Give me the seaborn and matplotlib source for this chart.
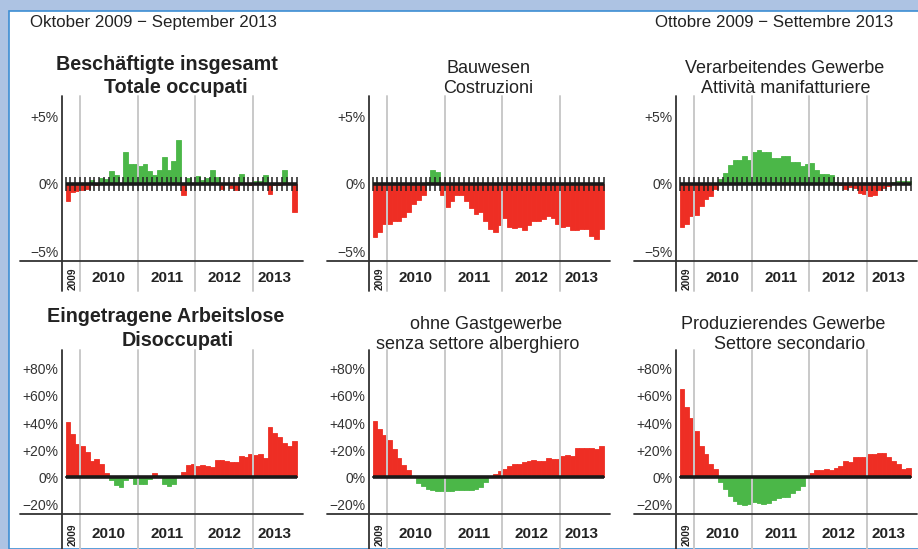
import matplotlib
matplotlib.use('Agg')
import matplotlib.pyplot as plt
from matplotlib.patches import Rectangle
import seaborn as sns
import numpy as np
import pandas as pd

# monthly change vs. same month of previous year, Oct 2009 - Sep 2013
employed_total = [-1.23, -0.57, -0.5, -0.45, -0.4, 0.3, -0.1, 0.45, 0.4, 0.95, 0.7, 0.05,
                  2.4, 1.45, 1.5, 1.3, 1.45, 0.95, 0.7, 1.05, 2.0, 1.05, 1.7, 3.3,
                  -0.8, 0.45, 0.1, 0.6, 0.3, 0.45, 1.05, 0.55, -0.35, 0.1, -0.3, -0.45,
                  0.75, 0.1, -0.05, 0.2, 0.2, 0.7, -0.75, -0.05, -0.05, 1.05, 0.1, -2.1]
construction = [-3.95, -3.55, -2.95, -3.0, -2.75, -2.75, -2.45, -2.1, -1.5, -1.2, -0.8, 0.15,
                1.05, 0.9, -0.8, -1.7, -1.3, -0.8, -0.8, -1.25, -1.8, -2.25, -2.1, -2.75,
                -3.35, -3.55, -3.05, -2.5, -3.2, -3.3, -3.2, -3.4, -3.05, -2.75, -2.75, -2.6,
                -2.4, -2.55, -3.0, -3.2, -3.1, -3.4, -3.4, -3.35, -3.35, -3.9, -4.05, -3.35]
manufacturing = [-3.2, -2.95, -2.4, -2.3, -1.6, -1.15, -0.9, -0.35, 0.35, 0.85, 1.4, 1.75,
                 1.75, 2.1, 1.8, 2.4, 2.5, 2.35, 2.35, 1.95, 1.95, 2.1, 2.1, 1.65,
                 1.6, 1.35, 1.5, 1.55, 1.0, 0.75, 0.75, 0.7, 0.15, -0.05, -0.4, -0.25,
                 -0.3, -0.65, -0.75, -0.9, -0.85, -0.45, -0.3, -0.15, 0.15, 0.25, 0.2, 0.25]
unemployed_total = [41.1, 32.0, 24.6, 23.2, 18.7, 12.1, 13.5, 9.9, 3.2, -2.5, -5.7, -7.0,
                    -2.5, -0.5, -4.9, -5.0, -5.0, -1.5, 3.2, 0.8, -5.0, -6.5, -5.0, 0.2,
                    4.0, 9.0, 9.9, 8.5, 9.2, 8.3, 7.6, 12.3, 13.0, 12.0, 11.5, 11.5,
                    15.7, 15.0, 17.0, 16.5, 17.0, 14.3, 37.2, 32.5, 30.0, 25.0, 23.0, 27.0]
unemployed_no_hotel = [41.6, 35.7, 31.3, 27.6, 20.9, 14.3, 9.1, 5.4, -0.3, -4.4, -6.9, -8.6,
                       -9.6, -10.6, -10.6, -10.6, -10.5, -9.9, -9.9, -9.4, -9.9, -8.6, -7.1, -3.9,
                       0.3, 2.5, 4.7, 6.2, 8.4, 9.9, 9.9, 10.8, 12.1, 12.8, 12.1, 12.1,
                       14.3, 13.1, 13.5, 15.8, 16.5, 15.8, 21.7, 21.7, 21.2, 21.7, 20.9, 23.2]
unemployed_industry = [65.3, 52.0, 43.8, 34.2, 23.2, 17.0, 9.9, 6.2, -3.9, -9.1, -14.3, -17.5,
                       -19.7, -20.9, -19.7, -18.2, -19.0, -20.2, -19.0, -17.0, -15.8, -15.0, -14.5, -11.6,
                       -9.4, -6.9, -0.3, 3.2, 5.4, 5.4, 6.2, 5.4, 6.9, 8.4, 12.1, 11.3,
                       15.0, 15.0, 15.0, 17.2, 17.2, 18.0, 18.0, 15.0, 12.1, 9.9, 6.2, 6.9]

years = ['2010', '2011', '2012', '2013']
year_centers = [8.5, 20.5, 32.5, 43.0]
year_bounds = [2.5, 14.5, 26.5, 38.5]

RED = '#ee2e24'
GREEN = '#4bb748'
BLUE_BG = '#adc3e3'
TXT = '#222222'

W, H = 918, 549
fig = plt.figure(figsize=(W / 100, H / 100), dpi=100)
fig.patch.set_facecolor(BLUE_BG)
fig.add_artist(Rectangle((9 / W, 0), 1, 1 - 11 / H, transform=fig.transFigure,
                         facecolor='white', edgecolor='#3d8ed3', linewidth=1.2, zorder=-10))

sns.set_style('white')
plt.rcParams['font.family'] = ['Liberation Sans', 'DejaVu Sans']


def fy(y):
    return 1 - y / H


def draw_panel(left, top, bottom, values, ylim, yticks, ylabels, tail, up_good):
    width = 241
    ax = fig.add_axes([left / W, fy(bottom), width / W, (bottom - top) / H])
    ax.set_facecolor('none')
    df = pd.DataFrame({'month': np.arange(48), 'value': values})
    df['sign'] = np.where(df['value'] >= 0, 'pos', 'neg')
    pal = {'pos': GREEN, 'neg': RED} if up_good else {'pos': RED, 'neg': GREEN}
    sns.barplot(data=df, x='month', y='value', hue='sign', hue_order=['pos', 'neg'],
                palette=pal, dodge=False, width=1,
                saturation=1, legend=False, ax=ax, zorder=2)
    for p in ax.patches:
        p.set_edgecolor(p.get_facecolor())
        p.set_linewidth(0.6)
    ax.set_xlim(-1.25, 48.85)
    ax.set_ylim(*ylim)
    ax.set_xticks([])
    ax.set_xlabel('')
    ax.set_ylabel('')
    ax.set_yticks(yticks)
    ax.set_yticklabels(ylabels, fontsize=10, color='#333333')
    ax.tick_params(axis='y', length=0, pad=2.6)
    for s in ax.spines.values():
        s.set_visible(False)
    ext = tail / (bottom - top)
    for b in year_bounds:
        ax.axvline(b, ymin=-ext, ymax=1, color='#c9c9c9', lw=1.4, clip_on=False, zorder=3)
    ax.axvline(-1.25, ymin=-ext, ymax=1, color='#333333', lw=1.3, clip_on=False, zorder=5)
    ax.axhline(ylim[0], xmin=-42 / width, xmax=1, color='#333333', lw=1.3,
               clip_on=False, zorder=5)
    ax.vlines(np.arange(-0.5, 48), -0.5, 0.5, color='#222222', lw=1.1, zorder=4)
    ax.plot([-0.5, 47.5], [0, 0], color='#1a1a1a', lw=2.6, zorder=4,
            solid_capstyle='butt')
    trans = ax.get_xaxis_transform()
    ycen = -(tail * 0.5 + 2.5) / (bottom - top)
    for yr, xc in zip(years, year_centers):
        ax.text(xc, ycen, yr, transform=trans, ha='center', va='center',
                fontsize=11, fontweight='bold', color=TXT)
    ax.text(1.0, ycen, '2009', transform=trans, ha='center', va='center', rotation=90,
            fontsize=7.3, fontweight='bold', color=TXT)
    return ax


top_ylim = (-5.72, 6.53)
bot_ylim = (-27.3, 94.0)
top_ticks = [-5, 0, 5]
top_labels = ['\u22125%', '0%', '+5%']
bot_ticks = [-20, 0, 20, 40, 60, 80]
bot_labels = ['\u221220%', '0%', '+20%', '+40%', '+60%', '+80%']

lefts = [62, 369, 676]
top_series = [employed_total, construction, manufacturing]
bot_series = [unemployed_total, unemployed_no_hotel, unemployed_industry]
for lx, vals in zip(lefts, top_series):
    draw_panel(lx, 96, 261, vals, top_ylim, top_ticks, top_labels, 30, True)
for lx, vals in zip(lefts, bot_series):
    draw_panel(lx, 350, 514, vals, bot_ylim, bot_ticks, bot_labels, 36, False)


def title(x, y, s, bold=False):
    fig.text(x / W, fy(y), s, ha='center', va='baseline', color=TXT,
             fontsize=14.2 if bold else 13.0, fontweight='bold' if bold else 'normal')


title(167, 70, 'Beschäftigte insgesamt', True)
title(176, 92.7, 'Totale occupati', True)
title(488, 73.3, 'Bauwesen')
title(488, 93.3, 'Costruzioni')
title(785, 73.3, 'Verarbeitendes Gewerbe')
title(786, 93.3, 'Attività manifatturiere')
title(166, 321.7, 'Eingetragene Arbeitslose', True)
title(178, 345.7, 'Disoccupati', True)
title(486, 329.3, 'ohne Gastgewerbe')
title(478, 349.3, 'senza settore alberghiero')
title(783.5, 329.3, 'Produzierendes Gewerbe')
title(789.5, 349.3, 'Settore secondario')

fig.text(30 / W, fy(27), 'Oktober 2009 \u2212 September 2013', ha='left', va='baseline',
         fontsize=12.2, color=TXT)
fig.text(893 / W, fy(27), 'Ottobre 2009 \u2212 Settembre 2013', ha='right', va='baseline',
         fontsize=12.2, color=TXT)

fig.savefig('out.png', dpi=100, facecolor=fig.get_facecolor())
